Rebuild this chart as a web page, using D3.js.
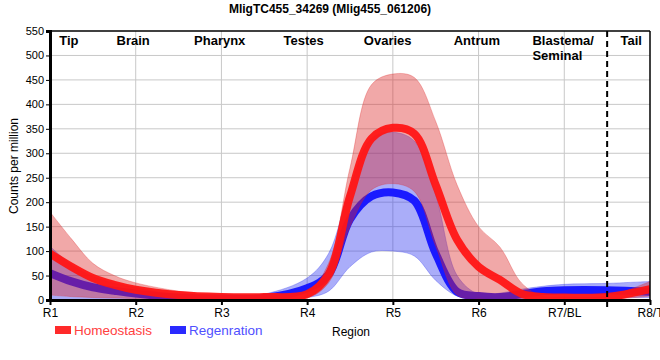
<!DOCTYPE html>
<html><head><meta charset="utf-8">
<script src="https://cdn.jsdelivr.net/npm/d3@7/dist/d3.min.js"></script>
<style>html,body{margin:0;padding:0;background:#fff;}svg{display:block;font-family:Arial,"Liberation Sans",sans-serif;}</style>
</head><body>
<svg id="chart" width="660" height="360"></svg>
<script>
const title = "MligTC455_34269 (Mlig455_061206)";
const pos = [1,1.25,1.5,1.75,2,2.5,3,3.5,4,4.25,4.5,4.75,5,5.25,5.5,5.75,6,6.25,6.5,6.75,7,7.5,8];
const homMean = [95,68,45,31,21,10,6,6,12,52,212,330,352,340,235,123,68,41,13,6,5,6,22];
const homHi   = [180,125,75,50,35,18,8,8,16,75,270,440,462,455,365,235,150,108,35,7,6,8,38];
const homLo   = [10,7,5,4,3,3,3,3,4,35,150,225,238,222,110,10,2,1,1,1,1,1,8];
const regMean = [55,38,26,19,13,5,3,4,24,52,165,212,220,203,95,17,8,6,12,18,20,20,17];
const regHi   = [110,72,48,34,25,10,5,12,45,95,230,330,343,325,215,50,12,14,22,28,32,34,38];
const regLo   = [1,1,1,1,1,1,1,1,5,18,68,98,100,90,40,8,3,2,2,4,5,5,5];
const xTickLabels = ["R1","R2","R3","R4","R5","R6","R7/BL","R8/T"];
const yTicks = [0,50,100,150,200,250,300,350,400,450,500,550];
const regionNames = ["Tip","Brain","Pharynx","Testes","Ovaries","Antrum","Blastema/|Seminal","Tail"];
const regionAt = [1.22,1.97,2.98,3.96,4.94,5.98,6.99,7.78];
const dividerAt = 7.5;
const seriesNames = ["Homeostasis","Regenration"];

const svg = d3.select("#chart");
const L=50,R=650,T=31,B=300;
const x = d3.scaleLinear().domain([1,8]).range([L,R]);
const y = d3.scaleLinear().domain([0,550]).range([B,T]);
const curve = d3.curveCatmullRom.alpha(0.5);

svg.append("defs").append("clipPath").attr("id","clip")
  .append("rect").attr("x",L).attr("y",T).attr("width",R-L).attr("height",B-T);

// grid
const g = svg.append("g");
g.selectAll("line.h").data(yTicks.filter(v=>v>0&&v<550)).join("line")
  .attr("x1",L).attr("x2",R).attr("y1",d=>y(d)).attr("y2",d=>y(d))
  .attr("stroke","#c8c8c8").attr("stroke-width",1);
g.selectAll("line.v").data(d3.range(2,8)).join("line")
  .attr("y1",T).attr("y2",B).attr("x1",d=>x(d)).attr("x2",d=>x(d))
  .attr("stroke","#c8c8c8").attr("stroke-width",1);

const plot = svg.append("g").attr("clip-path","url(#clip)");
const area = (lo,hi)=>d3.area().x((d,i)=>x(pos[i])).y0((d,i)=>y(lo[i])).y1((d,i)=>y(hi[i])).curve(curve)(pos);
const line = (m)=>d3.line().x((d,i)=>x(pos[i])).y((d,i)=>y(m[i])).curve(curve)(pos);

plot.append("path").attr("d",area(regLo,regHi)).attr("fill","#2a32f0").attr("fill-opacity",0.4)
  .attr("stroke","#2a32f0").attr("stroke-opacity",0.3).attr("stroke-width",1);
plot.append("path").attr("d",line(regMean)).attr("fill","none").attr("stroke","#1a1aff")
  .attr("stroke-width",8).attr("stroke-linejoin","round");
plot.append("path").attr("d",area(homLo,homHi)).attr("fill","#dd2525").attr("fill-opacity",0.4)
  .attr("stroke","#dd2525").attr("stroke-opacity",0.3).attr("stroke-width",1);
plot.append("path").attr("d",line(homMean)).attr("fill","none").attr("stroke","#ff1515")
  .attr("stroke-opacity",0.95).attr("stroke-width",8).attr("stroke-linejoin","round");

// divider
svg.append("line").attr("x1",x(dividerAt)).attr("x2",x(dividerAt)).attr("y1",T).attr("y2",B+8)
  .attr("stroke","#000").attr("stroke-width",2).attr("stroke-dasharray","6,4");

// frame
svg.append("line").attr("x1",L).attr("x2",R).attr("y1",T).attr("y2",T).attr("stroke","#000").attr("stroke-width",1.5);
svg.append("line").attr("x1",R).attr("x2",R).attr("y1",T).attr("y2",B).attr("stroke","#000").attr("stroke-width",1.5);

// axes
const yAxis = svg.append("g").attr("transform",`translate(${L},0)`)
  .call(d3.axisLeft(y).tickValues(yTicks).tickSize(4).tickPadding(2));
yAxis.select(".domain").attr("stroke-width",3);
yAxis.selectAll("text").attr("font-size",11).attr("fill","#000").attr("font-family","Arial,'Liberation Sans',sans-serif");
const xAxis = svg.append("g").attr("transform",`translate(0,${B})`)
  .call(d3.axisBottom(x).tickValues(d3.range(1,9)).tickFormat((d,i)=>xTickLabels[i]).tickSize(5).tickSizeOuter(0).tickPadding(3));
xAxis.select(".domain").attr("stroke-width",3);
xAxis.selectAll("line").attr("stroke-width",2);
xAxis.selectAll("text").attr("font-size",12).attr("fill","#000").attr("font-family","Arial,'Liberation Sans',sans-serif");

// region labels
regionNames.forEach((n,i)=>{
  const parts = n.split("|");
  const multi = parts.length>1;
  const t = svg.append("text").attr("font-size",13).attr("font-weight","bold").attr("fill","#000")
    .attr("text-anchor", multi ? "start" : "middle");
  parts.forEach((p,j)=>t.append("tspan")
    .attr("x", multi ? x(regionAt[i]) - 31 : x(regionAt[i])).attr("y",45+j*14.5).text(p));
});

// title
svg.append("text").attr("x",330).attr("y",13).attr("text-anchor","middle").attr("font-size",12)
  .attr("font-weight","bold").text(title);
// axis titles
svg.append("text").attr("transform","translate(18,166) rotate(-90)").attr("text-anchor","middle")
  .attr("font-size",12).text("Counts per million");
svg.append("text").attr("x",332).attr("y",336).attr("font-size",12).text("Region");

// legend
const leg = [{c:"#ff2a2a",t:"#ff4040",x:55},{c:"#2a2aff",t:"#5050ff",x:170}];
leg.forEach((l,i)=>{
  svg.append("rect").attr("x",l.x).attr("y",326).attr("width",16).attr("height",8).attr("fill",l.c);
  svg.append("text").attr("x",l.x+19).attr("y",335).attr("font-size",13.5).attr("fill",l.t).text(seriesNames[i]);
});
</script>
</body></html>
